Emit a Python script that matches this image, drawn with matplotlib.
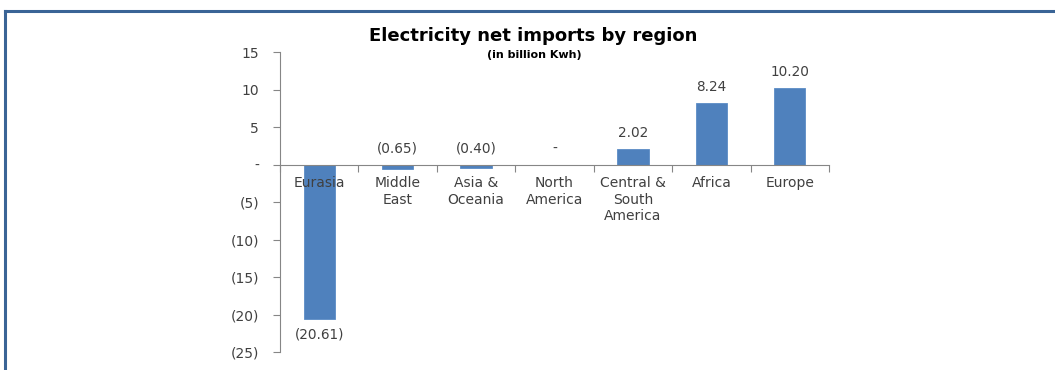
import matplotlib
matplotlib.use('Agg')

import matplotlib.pyplot as plt
from matplotlib.lines import Line2D
from matplotlib.ticker import FixedLocator, NullFormatter

regions = ['Eurasia', 'Middle\nEast', 'Asia &\nOceania', 'North\nAmerica',
           'Central &\nSouth\nAmerica', 'Africa', 'Europe']
net_imports = [-20.61, -0.65, -0.40, 0.0, 2.02, 8.24, 10.20]
value_labels = ['(20.61)', '(0.65)', '(0.40)', '-', '2.02', '8.24', '10.20']

y_ticks = [15, 10, 5, 0, -5, -10, -15, -20, -25]
y_tick_labels = ['15', '10', '5', '-', '(5)', '(10)', '(15)', '(20)', '(25)']

plt.rcParams['font.family'] = ['DejaVu Sans']
text_col = '#404040'
axis_col = '#868686'
bar_col = '#4F81BD'

fig = plt.figure(figsize=(10.55, 3.7), dpi=100)
ax = fig.add_axes([0.2654, 0.0486, 0.5204, 0.8108])
ax.set_axisbelow(False)

x = list(range(len(regions)))
ax.bar(x, net_imports, width=0.4, color=bar_col, edgecolor='#5B8CC6',
       linewidth=0.6, zorder=2)

ax.set_xlim(-0.5, len(regions) - 0.5)
ax.set_ylim(-25, 15)

# category boundary ticks, labels sit on minor ticks at bar centres
ax.xaxis.set_major_locator(FixedLocator([i - 0.5 for i in range(len(regions) + 1)]))
ax.xaxis.set_major_formatter(NullFormatter())
ax.xaxis.set_minor_locator(FixedLocator(x))
ax.set_xticklabels(regions, minor=True)
ax.tick_params(axis='x', which='major', direction='out', length=5,
               color=axis_col, width=0.8)
ax.tick_params(axis='x', which='minor', length=0, pad=8.5,
               labelsize=10, labelcolor=text_col)
for lbl in ax.get_xticklabels(minor=True):
    lbl.set_linespacing(1.42)

ax.set_yticks(y_ticks)
ax.set_yticklabels(y_tick_labels)
ax.tick_params(axis='y', direction='out', length=5, color=axis_col, width=0.8,
               labelsize=10, labelcolor=text_col, pad=10)

ax.spines['bottom'].set_position(('data', 0))
ax.spines['bottom'].set_color(axis_col)
ax.spines['left'].set_color(axis_col)
ax.spines['top'].set_visible(False)
ax.spines['right'].set_visible(False)

for i, (v, s) in enumerate(zip(net_imports, value_labels)):
    if v < -5:
        ax.annotate(s, (i, v), xytext=(0, -11), textcoords='offset points',
                    ha='center', va='center', fontsize=9.8, color=text_col)
    else:
        ax.annotate(s, (i, max(v, 0)), xytext=(0, 11.5), textcoords='offset points',
                    ha='center', va='center', fontsize=9.8, color=text_col)

fig.text(533 / 1055, 1 - 36 / 370, 'Electricity net imports by region',
         ha='center', va='center', fontsize=13, fontweight='bold', color='black')
fig.text(534 / 1055, 1 - 55 / 370, '(in billion Kwh)',
         ha='center', va='center', fontsize=8, fontweight='bold', color='black')

# frame lines along top and left edge
fig.add_artist(Line2D([5 / 1055, 1], [1 - 11 / 370, 1 - 11 / 370],
                      transform=fig.transFigure, color='#3A6496', linewidth=2.2))
fig.add_artist(Line2D([5 / 1055, 5 / 1055], [0, 1 - 11 / 370],
                      transform=fig.transFigure, color='#3A6496', linewidth=2.2))

fig.savefig('out.png', dpi=100)
